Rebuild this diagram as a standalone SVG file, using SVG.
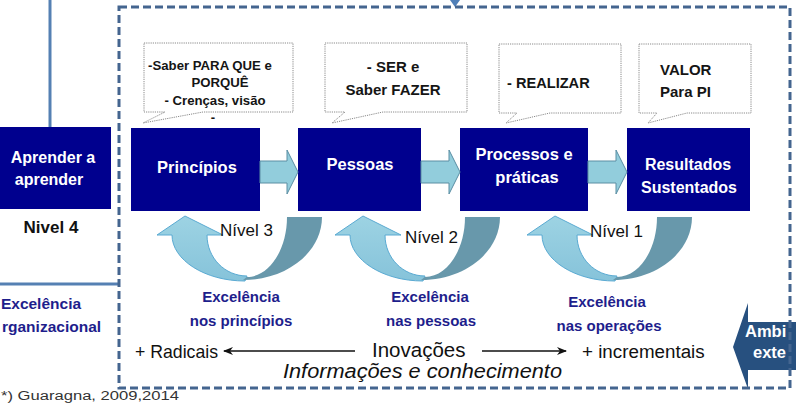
<svg xmlns="http://www.w3.org/2000/svg" width="796" height="403" viewBox="0 0 796 403">
<style>
text{font-family:"Liberation Sans",Arial,sans-serif}
.box{fill:#00008e}
.wt{fill:#fff;font-weight:bold;font-size:16.5px;text-anchor:middle}
.call{fill:#fff;stroke:#8a8a8a;stroke-width:1;stroke-dasharray:1.2 1}
.ct{fill:#151515;font-weight:bold}
.blk{fill:#92cddc;stroke:#5a8ea3;stroke-width:1}
.dark{fill:#6898ab}
.light{fill:url(#lg);stroke:#5aaad2;stroke-width:1}
.lvl{fill:#111;font-size:17px}
.exc{fill:#1e1e8c;font-weight:bold;font-size:15px;text-anchor:middle}
.frame{fill:none;stroke:#44658f;stroke-width:3;stroke-dasharray:8 4}
</style>
<defs>
<linearGradient id="lg" x1="0" y1="0" x2="0" y2="1">
<stop offset="0" stop-color="#9dd3e3"/>
<stop offset="1" stop-color="#86c3da"/>
</linearGradient>
<marker id="ah" markerWidth="10" markerHeight="8" refX="9" refY="4" orient="auto" markerUnits="userSpaceOnUse">
<path d="M0,0 L10,4 L0,8 L3,4 Z" fill="#111"/>
</marker>
<g id="circ">
<path class="light" d="M245,281 C205,281 172,260 172,235 L157,235 L185,216 L223,235 L207,235 C207,258 225,276 247,276 Z"/>
<path class="dark" d="M287,217 L322,217 C322,252 287,280 243,280 L247,277 C269,277 287,250 287,217 Z"/>
</g>
</defs>
<rect width="796" height="403" fill="#fff"/>

<g id="left-lines" stroke="#5580b3" stroke-width="3" fill="none">
<line x1="50" y1="0" x2="50" y2="127"/>
<line x1="0" y1="284" x2="118" y2="284"/>
</g>
<g id="top-arrow" fill="#4f7fb8">
<path d="M450,0 L460,0 L455,7 Z"/>
</g>

<g id="aprender">
<rect class="box" x="0" y="127" width="111" height="82"/>
<text class="wt" x="53" y="163" style="font-size:16px">Aprender a</text>
<text class="wt" x="49" y="185" style="font-size:16px">aprender</text>
</g>
<g id="nivel4"><text x="51" y="233" style="font-weight:bold;font-size:17px;fill:#111;text-anchor:middle">Nivel 4</text></g>
<g id="excel-org">
<text class="exc" x="41" y="309" style="font-size:15.5px">Excelência</text>
<text class="exc" x="2" y="332" style="font-size:15.5px;text-anchor:start">rganizacional</text>
</g>
<g id="footnote"><text x="1" y="400" style="font-size:12.5px;fill:#333" textLength="178" lengthAdjust="spacingAndGlyphs">*) Guaragna, 2009,2014</text></g>

<g id="callout1">
<path class="call" d="M144,43 H293 V112 H203 L143,123 L165,112 H144 Z"/>
<text class="ct" x="210" y="70" text-anchor="middle" style="font-size:13.2px">-Saber PARA QUE e</text>
<text class="ct" x="220" y="87" text-anchor="middle" style="font-size:13.2px">PORQUÊ</text>
<text class="ct" x="215" y="105" text-anchor="middle" style="font-size:13.2px">- Crenças, visão</text>
<text class="ct" x="213" y="122" text-anchor="middle" style="font-size:13.2px">-</text>
</g>
<g id="callout2">
<path class="call" d="M325,43 H467 V112 H383 L332,123 L345,112 H325 Z"/>
<text class="ct" x="393" y="72" text-anchor="middle" style="font-size:15px">- SER e</text>
<text class="ct" x="393" y="95" text-anchor="middle" style="font-size:15px">Saber FAZER</text>
</g>
<g id="callout3">
<path class="call" d="M499,44 H621 V113 H550 L506,123 L517,113 H499 Z"/>
<text class="ct" x="507" y="88" style="font-size:14.6px">- REALIZAR</text>
</g>
<g id="callout4">
<path class="call" d="M639,44 H751 V113 H687 L648,123 L657,113 H639 Z"/>
<text class="ct" x="660" y="75" style="font-size:15px">VALOR</text>
<text class="ct" x="660" y="97" style="font-size:15px">Para PI</text>
</g>

<g id="principios">
<rect class="box" x="131" y="128" width="129" height="83"/>
<text class="wt" x="197" y="173">Princípios</text>
</g>
<g id="pessoas">
<rect class="box" x="298" y="128" width="123" height="83"/>
<text class="wt" x="360" y="170">Pessoas</text>
</g>
<g id="processos">
<rect class="box" x="460" y="128" width="128" height="83"/>
<text class="wt" x="524" y="160">Processos e</text>
<text class="wt" x="527" y="183">práticas</text>
</g>
<g id="resultados">
<rect class="box" x="627" y="128" width="123" height="83"/>
<text class="wt" x="688" y="170" style="font-size:16px">Resultados</text>
<text class="wt" x="689" y="193" style="font-size:16px">Sustentados</text>
</g>

<g id="connectors">
<path class="blk" d="M260,161 H287 V150 L298,172 L287,194 V183 H260 Z"/>
<path class="blk" d="M421,161 H449 V150 L460,172 L449,194 V183 H421 Z"/>
<path class="blk" d="M588,161 H616 V150 L627,172 L616,194 V183 H588 Z"/>
<use href="#circ"/>
<use href="#circ" transform="translate(178,0)"/>
<use href="#circ" transform="translate(370,0)"/>
<line x1="355" y1="351" x2="224" y2="351" stroke="#111" stroke-width="1.3" marker-end="url(#ah)"/>
<line x1="482" y1="351" x2="566" y2="351" stroke="#111" stroke-width="1.3" marker-end="url(#ah)"/>
</g>

<g id="nivel-labels">
<text class="lvl" x="220" y="236">Nível 3</text>
<text class="lvl" x="405" y="243">Nível 2</text>
<text class="lvl" x="590" y="237">Nível 1</text>
</g>
<g id="excel-labels">
<text class="exc" x="241" y="302">Excelência</text>
<text class="exc" x="241" y="326">nos princípios</text>
<text class="exc" x="430" y="302">Excelência</text>
<text class="exc" x="431" y="326">nas pessoas</text>
<text class="exc" x="607" y="307">Excelência</text>
<text class="exc" x="609" y="331">nas operações</text>
</g>
<g id="inovacoes">
<text x="135" y="358" style="font-size:17.7px;fill:#111">+ Radicais</text>
<text x="372" y="357" style="font-size:20.5px;fill:#111">Inovações</text>
<text x="582" y="358" style="font-size:18.8px;fill:#111">+ incrementais</text>
<text x="283" y="378" style="font-size:20px;font-style:italic;fill:#111" textLength="279" lengthAdjust="spacingAndGlyphs">Informações e conhecimento</text>
</g>

<g id="ambiente">
<path d="M733,347 L748,303 V322 H800 V370 H748 V389 Z" fill="#27507f"/>
<text x="745" y="337" style="font-weight:bold;font-size:16.5px;fill:#fff">Ambi</text>
<text x="753" y="358" style="font-weight:bold;font-size:16.5px;fill:#fff">exte</text>
</g>

<g id="frame">
<rect class="frame" x="119" y="7" width="671" height="381"/>
</g>
</svg>
